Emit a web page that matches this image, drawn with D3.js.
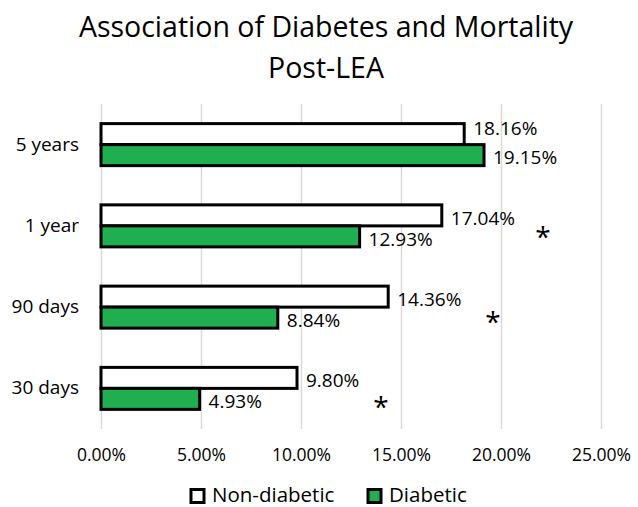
<!DOCTYPE html>
<html>
<head>
<meta charset="utf-8">
<script src="https://cdn.jsdelivr.net/npm/d3@7/dist/d3.min.js"></script>
<style>
  html, body { margin: 0; padding: 0; background: #fff; }
  svg { display: block; font-family: "Open Sans", "Noto Sans", sans-serif; }
</style>
</head>
<body>
<svg id="chart" width="638" height="507"></svg>
<script>
// Mortality after lower-extremity amputation, by follow-up period (%)
const categories = ["5 years", "1 year", "90 days", "30 days"];
const nonDiabetic = [18.16, 17.04, 14.36, 9.80];
const diabetic = [19.15, 12.93, 8.84, 4.93];
const seriesNames = ["Non-diabetic", "Diabetic"];
const xTicks = [0, 5, 10, 15, 20, 25];
const significant = ["1 year", "90 days", "30 days"];

const plot = { left: 101, right: 601, top: 104, bottom: 429 };
const fills = ["#ffffff", "#1fae50"];

const svg = d3.select("#chart");

const x = d3.scaleLinear().domain([0, 25]).range([plot.left, plot.right]);
const y = d3.scaleBand().domain(categories)
  .range([plot.top, plot.bottom])
  .paddingInner(0.483).paddingOuter(0.2415);
const sub = d3.scaleBand().domain(seriesNames).range([0, y.bandwidth()]);

// Title
const title = svg.append("text")
  .attr("text-anchor", "middle")
  .attr("font-size", 28.5)
  .attr("fill", "#000");
title.append("tspan").attr("x", 326).attr("y", 37).text("Association of Diabetes and Mortality");
title.append("tspan").attr("x", 326).attr("y", 78).text("Post-LEA");

// Vertical gridlines
const grid = svg.append("g")
  .attr("transform", `translate(0,${plot.top})`)
  .call(d3.axisBottom(x).tickValues(xTicks).tickSize(plot.bottom - plot.top).tickFormat(""));
grid.select(".domain").remove();
grid.selectAll("line").attr("stroke", "#d9d9d9").attr("stroke-width", 1.5);

// Bottom tick labels
const xAxis = svg.append("g")
  .attr("transform", `translate(0,${plot.bottom})`)
  .call(d3.axisBottom(x).tickValues(xTicks).tickSize(0).tickPadding(20)
    .tickFormat(d => d.toFixed(2) + "%"));
xAxis.select(".domain").remove();
xAxis.selectAll("text")
  .attr("font-family", "Open Sans")
  .attr("font-size", 17.5)
  .attr("fill", "#000");

// Category labels
const yAxis = svg.append("g")
  .attr("transform", `translate(${plot.left},0)`)
  .call(d3.axisLeft(y).tickSize(0).tickPadding(22));
yAxis.select(".domain").remove();
yAxis.selectAll("text")
  .attr("font-family", "Open Sans")
  .attr("font-size", 19)
  .attr("fill", "#000");

// Bars
const rows = categories.map((c, i) => ({ category: c, values: [nonDiabetic[i], diabetic[i]] }));
const groups = svg.append("g").selectAll("g")
  .data(rows).join("g")
  .attr("transform", d => `translate(0,${y(d.category)})`);

groups.selectAll("rect")
  .data(d => d.values.map((v, j) => ({ series: seriesNames[j], value: v, j })))
  .join("rect")
  .attr("x", x(0))
  .attr("y", d => sub(d.series))
  .attr("width", d => x(d.value) - x(0))
  .attr("height", sub.bandwidth())
  .attr("fill", d => fills[d.j])
  .attr("stroke", "#000")
  .attr("stroke-width", 3);

// Value labels; the top pair is nudged apart so the two labels do not collide
const labelNudge = { "5 years|Non-diabetic": -9, "5 years|Diabetic": -1 };
groups.selectAll("text.value")
  .data(d => d.values.map((v, j) => ({ category: d.category, series: seriesNames[j], value: v })))
  .join("text")
  .attr("class", "value")
  .attr("x", d => x(d.value) + 9)
  .attr("y", d => sub(d.series) + sub.bandwidth() / 2 + 9.5 + (labelNudge[d.category + "|" + d.series] || 0))
  .attr("font-size", 19)
  .attr("fill", "#000")
  .text(d => d.value.toFixed(2) + "%");

// Significance markers
const starAt = { "1 year": [22.1, 0.07], "90 days": [19.6, 0.12], "30 days": [14.0, 0.17] };
svg.append("g").selectAll("text")
  .data(significant).join("text")
  .attr("text-anchor", "middle")
  .attr("x", d => x(starAt[d][0]))
  .attr("y", d => y(d) + y.bandwidth() / 2 + y.step() * starAt[d][1] + 15)
  .attr("font-size", 28)
  .attr("fill", "#000")
  .text("*");

// Legend
const legend = svg.append("g").attr("transform", "translate(0,496)");
const legendX = [191, 368];
seriesNames.forEach((name, j) => {
  const g = legend.append("g").attr("transform", `translate(${legendX[j]},0)`);
  g.append("rect")
    .attr("x", 0).attr("y", -6.5)
    .attr("width", 13).attr("height", 13)
    .attr("fill", fills[j]).attr("stroke", "#000").attr("stroke-width", 3);
  g.append("text")
    .attr("x", 21).attr("y", 6)
    .attr("font-size", 20.5)
    .attr("fill", "#000")
    .text(name);
});
</script>
</body>
</html>
